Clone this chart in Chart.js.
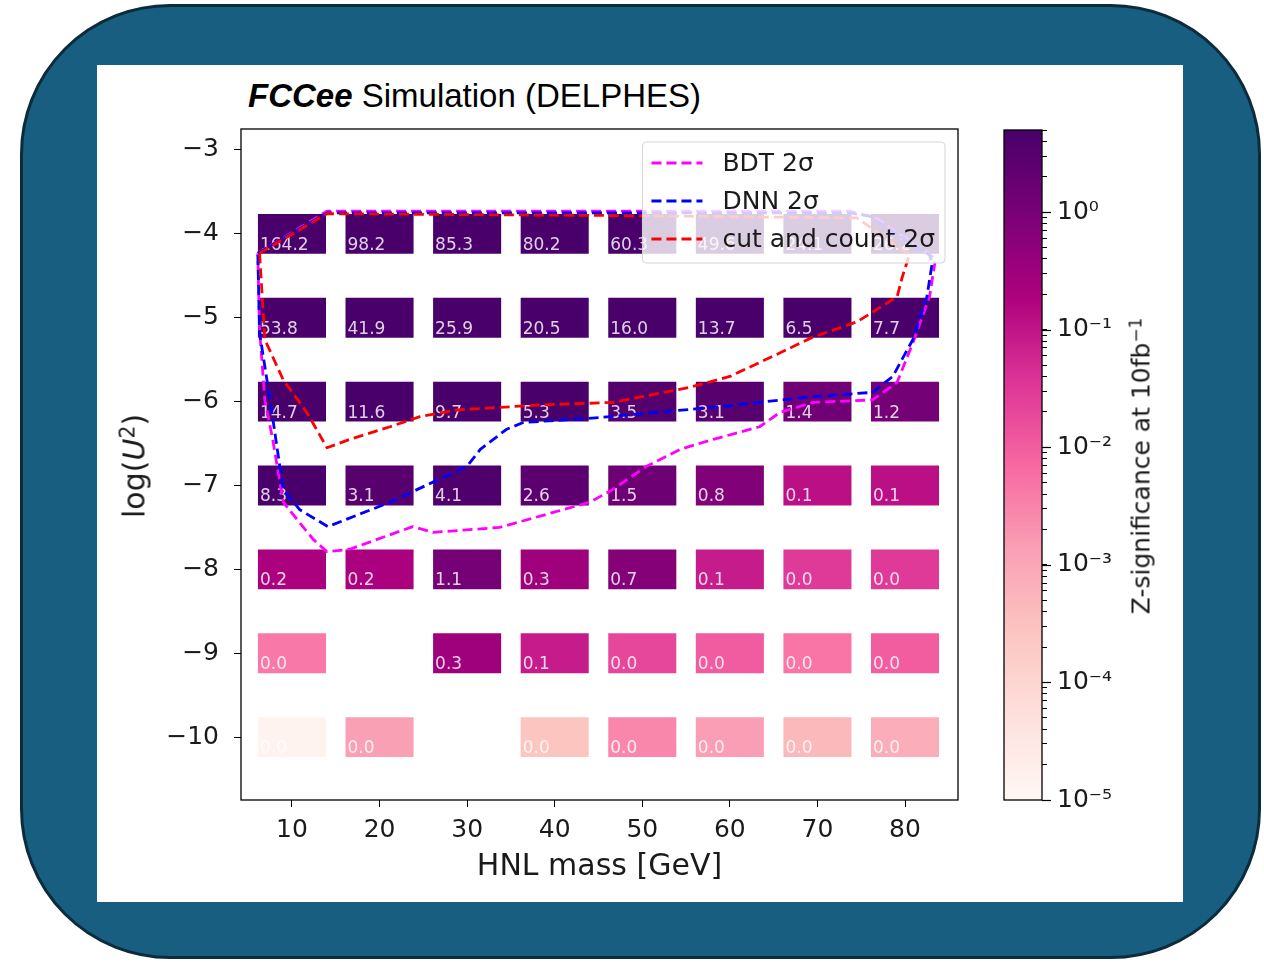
<!DOCTYPE html>
<html>
<head>
<meta charset="utf-8">
<title>HNL significance map</title>
<script src="https://cdn.jsdelivr.net/npm/chart.js@4.4.1/dist/chart.umd.min.js"></script>
<style>
  html, body { margin: 0; padding: 0; background: #fff; }
  body { width: 1264px; height: 962px; position: relative; overflow: hidden; font-family: "DejaVu Sans", sans-serif; }
  .frame { position: absolute; left: 20px; top: 4px; width: 1241px; height: 955px; box-sizing: border-box;
           border: 3px solid #0c2b3b; border-radius: 150px; background: #175e80; }
  .panel { position: absolute; left: 97px; top: 65px; width: 1086px; height: 837px; background: #fff; }
  .title { position: absolute; left: 248px; top: 77px; font-family: "Liberation Sans", Arial, sans-serif;
           font-size: 33px; line-height: 38px; color: #000; white-space: nowrap; }
  #heatmap { position: absolute; left: 100px; top: 99px; }
  #colorbar { position: absolute; left: 990px; top: 105px; }
  .ylabel, .cblabel { position: absolute; transform: translate(-50%, -50%) rotate(-90deg); white-space: nowrap; color: #1a1a1a; }
  .ylabel { left: 134px; top: 466px; font-size: 30px; }
  .cblabel { left: 1141px; top: 466px; font-size: 25px; }
  .sup { font-size: 68%; position: relative; top: -0.5em; }
</style>
</head>
<body>
<div class="frame"></div>
<div class="panel"></div>
<div class="title"><b><i>FCCee</i></b> Simulation (DELPHES)</div>
<canvas id="heatmap" width="878" height="791"></canvas>
<canvas id="colorbar" width="190" height="725"></canvas>
<div class="ylabel">log(<i>U</i><span class="sup">2</span>)</div>
<div class="cblabel">Z-significance at 10fb<span class="sup">−1</span></div>

<script>
// HNL mass points (GeV) and coupling rows log10(U^2)
const massPoints = [10, 20, 30, 40, 50, 60, 70, 80];
const logU2Rows = [-4, -5, -6, -7, -8, -9, -10];

// Z-significance at 10 fb^-1, one entry per mass point (null = no sample)
const zRowM4  = [164.2, 98.2, 85.3, 80.2, 60.3, 49.6, 24.1, 26.2];
const zRowM5  = [53.8, 41.9, 25.9, 20.5, 16.0, 13.7, 6.5, 7.7];
const zRowM6  = [14.7, 11.6, 9.7, 5.3, 3.5, 3.1, 1.4, 1.2];
const zRowM7  = [8.3, 3.1, 4.1, 2.6, 1.5, 0.8, 0.12, 0.12];
const zRowM8  = [0.2, 0.2, 1.1, 0.3, 0.7, 0.08, 0.03, 0.03];
const zRowM9  = [0.0042, null, 0.3, 0.08, 0.02, 0.0105, 0.0048, 0.01];
const zRowM10 = [0.000013, 0.0013, null, 0.00026, 0.0028, 0.0014, 0.00045, 0.00076];
const zRows = [zRowM4, zRowM5, zRowM6, zRowM7, zRowM8, zRowM9, zRowM10];

// 2 sigma contours (mass in GeV, log10 U^2)
const bdtMass  = [6.1, 14.0, 73.7, 76.6, 83.4, 83.4, 82.8, 80.9, 79.1, 76.3, 69.5, 65.7, 63.4, 58.1, 54.3, 50.5, 46.6, 44.0, 33.7, 26.1, 23.8, 16.6, 14.0, 12.4, 9.0, 7.8, 6.9, 6.3, 6.1];
const bdtLogU2 = [-4.23, -3.73, -3.73, -3.81, -4.29, -4.35, -4.75, -5.30, -5.77, -5.98, -6.01, -6.13, -6.30, -6.45, -6.57, -6.77, -7.05, -7.20, -7.50, -7.56, -7.49, -7.76, -7.79, -7.64, -7.20, -6.45, -5.98, -5.14, -4.23];

const dnnMass  = [6.1, 14.0, 73.7, 76.0, 82.8, 83.1, 82.5, 80.9, 78.6, 76.3, 69.5, 58.9, 45.2, 36.4, 34.5, 31.5, 30.0, 26.1, 21.2, 14.1, 10.9, 9.0, 8.3, 7.5, 6.3, 6.1];
const dnnLogU2 = [-4.23, -3.75, -3.75, -3.79, -4.25, -4.35, -4.75, -5.26, -5.70, -5.89, -5.94, -6.06, -6.19, -6.25, -6.33, -6.57, -6.77, -6.96, -7.20, -7.49, -7.29, -7.05, -6.55, -5.98, -5.18, -4.23];

const cutMass  = [6.3, 14.0, 45.0, 74.5, 80.5, 79.7, 79.1, 74.5, 69.5, 64.9, 60.0, 55.4, 46.6, 38.3, 28.8, 24.6, 21.2, 16.6, 14.0, 11.7, 9.0, 6.9, 6.3];
const cutLogU2 = [-4.23, -3.76, -3.78, -3.81, -4.25, -4.51, -4.75, -5.05, -5.23, -5.46, -5.70, -5.83, -6.01, -6.04, -6.10, -6.18, -6.30, -6.45, -6.55, -6.13, -5.74, -5.26, -4.23];

// Axis ticks
const xTicks = [10, 20, 30, 40, 50, 60, 70, 80];
const yTicks = [-3, -4, -5, -6, -7, -8, -9, -10];
const cbMajorTicks = [1e-5, 1e-4, 1e-3, 1e-2, 1e-1, 1];

// Colour scale (RdPu, log normalised)
const zMin = 1e-5, zMax = 5;
const rdPu = ['#fff7f3', '#fde0dd', '#fcc5c0', '#fa9fb5', '#f768a1', '#dd3497', '#ae017e', '#7a0177', '#49006a'];

function hexToRgb(h) {
    const n = parseInt(h.slice(1), 16);
    return [(n >> 16) & 255, (n >> 8) & 255, n & 255];
}

function colorFor(z) {
    let t = (Math.log10(z) - Math.log10(zMin)) / (Math.log10(zMax) - Math.log10(zMin));
    t = Math.min(1, Math.max(0, t));
    const pos = t * (rdPu.length - 1);
    const i = Math.min(rdPu.length - 2, Math.floor(pos));
    const f = pos - i;
    const a = hexToRgb(rdPu[i]), b = hexToRgb(rdPu[i + 1]);
    const c = a.map((v, k) => Math.round(v + (b[k] - v) * f));
    return `rgb(${c[0]},${c[1]},${c[2]})`;
}

const supDigits = { '0': '⁰', '1': '¹', '2': '²', '3': '³', '4': '⁴', '5': '⁵', '6': '⁶', '7': '⁷', '8': '⁸', '9': '⁹', '-': '⁻' };
function powerLabel(e) {
    return '10' + String(e).split('').map(ch => supDigits[ch]).join('');
}

Chart.defaults.font.family = '"DejaVu Sans", sans-serif';
Chart.defaults.color = '#1a1a1a';

// Black box around the plotting area
const axesFrame = {
    id: 'axesFrame',
    afterDatasetsDraw(chart) {
        const { ctx, chartArea: a } = chart;
        ctx.save();
        ctx.strokeStyle = '#000';
        ctx.lineWidth = 1.3;
        ctx.strokeRect(a.left, a.top, a.right - a.left, a.bottom - a.top);
        ctx.restore();
    }
};

// Value written inside each cell, right after its row is drawn
const cellLabels = {
    id: 'cellLabels',
    afterDatasetDraw(chart, args) {
        const meta = args.meta;
        if (meta.type !== 'bar') return;
        const rows = chart.data.datasets[args.index].data;
        const ctx = chart.ctx;
        ctx.save();
        ctx.font = '17px "DejaVu Sans"';
        ctx.fillStyle = 'rgba(255,255,255,0.82)';
        ctx.textBaseline = 'alphabetic';
        meta.data.forEach((el, i) => {
            const left = el.x - el.width / 2;
            const bottom = Math.max(el.y, el.base);
            ctx.fillText(rows[i].z.toFixed(1), left + 3, bottom - 5);
        });
        ctx.restore();
    }
};

// Legend box in the upper right corner of the axes
const insetLegend = {
    id: 'insetLegend',
    afterDraw(chart) {
        const { ctx, chartArea: a } = chart;
        const items = chart.data.datasets.filter(d => d.type === 'line');
        ctx.save();
        ctx.font = '25px "DejaVu Sans"';
        const textW = Math.max(...items.map(d => ctx.measureText(d.label).width));
        const w = 80 + textW + 10, h = 121;
        const x = a.right - 13 - w, y = a.top + 13;
        ctx.beginPath();
        ctx.roundRect(x, y, w, h, 4);
        ctx.fillStyle = 'rgba(255,255,255,0.8)';
        ctx.fill();
        ctx.strokeStyle = '#d4d4d4';
        ctx.lineWidth = 1;
        ctx.stroke();
        items.forEach((d, i) => {
            const cy = y + 21 + i * 38;
            ctx.beginPath();
            ctx.setLineDash(d.borderDash);
            ctx.strokeStyle = d.borderColor;
            ctx.lineWidth = d.borderWidth;
            ctx.moveTo(x + 9, cy);
            ctx.lineTo(x + 60, cy);
            ctx.stroke();
            ctx.setLineDash([]);
            ctx.fillStyle = '#1a1a1a';
            ctx.textBaseline = 'middle';
            ctx.fillText(d.label, x + 80, cy + 1);
        });
        ctx.restore();
    }
};

// Heatmap rows as floating bars, half a unit of log(U^2) tall
const cellSets = logU2Rows.map((row, r) => ({
    type: 'bar',
    label: 'log U2 ' + row,
    order: 10,
    grouped: false,
    categoryPercentage: 1,
    barPercentage: 0.8,
    borderWidth: 1,
    borderColor: 'rgba(255,255,255,0.35)',
    borderSkipped: false,
    backgroundColor: ctx => ctx.raw ? colorFor(ctx.raw.z) : '#49006a',
    data: massPoints
        .map((m, i) => zRows[r][i] == null ? null : { x: m, y: [row - 0.25, row + 0.25], z: zRows[r][i] })
        .filter(Boolean)
}));

function contour(label, masses, values, color, order) {
    return {
        type: 'line',
        label: label,
        order: order,
        data: masses.map((m, i) => ({ x: m, y: values[i] })),
        borderColor: color,
        borderWidth: 2.8,
        borderDash: [10, 5],
        borderJoinStyle: 'round',
        pointRadius: 0,
        fill: false,
        tension: 0
    };
}

new Chart(document.getElementById('heatmap'), {
    data: {
        datasets: [
            contour('BDT 2σ', bdtMass, bdtLogU2, '#ff00ff', 3),
            contour('DNN 2σ', dnnMass, dnnLogU2, '#0000ff', 2),
            contour('cut and count 2σ', cutMass, cutLogU2, '#ff0000', 1),
            ...cellSets
        ]
    },
    options: {
        responsive: false,
        animation: false,
        events: [],
        layout: { padding: { left: 0, right: 20, top: 0, bottom: 0 } },
        plugins: { legend: { display: false }, tooltip: { enabled: false } },
        scales: {
            x: {
                type: 'linear',
                min: 4.18,
                max: 86.05,
                offset: false,
                afterBuildTicks: s => { s.ticks = xTicks.map(v => ({ value: v })); },
                afterFit: s => { s.height = 90; },
                ticks: { font: { size: 25 }, padding: 8, maxRotation: 0, autoSkip: false, color: '#1a1a1a' },
                grid: { offset: false, drawOnChartArea: false, tickLength: 7, color: '#000', tickColor: '#000' },
                border: { display: false },
                title: { display: true, text: 'HNL mass [GeV]', font: { size: 30 }, padding: { bottom: 5 }, color: '#1a1a1a' }
            },
            y: {
                type: 'linear',
                min: -10.75,
                max: -2.75,
                afterBuildTicks: s => { s.ticks = yTicks.map(v => ({ value: v })); },
                afterFit: s => { s.width = 141; },
                ticks: { font: { size: 25 }, padding: 15, autoSkip: false, color: '#1a1a1a', callback: v => '−' + Math.abs(v) },
                grid: { drawOnChartArea: false, tickLength: 7, color: '#000', tickColor: '#000' },
                border: { display: false }
            }
        }
    },
    plugins: [cellLabels, axesFrame, insetLegend]
});

// Colour bar: one floating bar over the full range with the colormap as gradient
const cbTickValues = [];
cbMajorTicks.forEach(p => {
    for (let k = 1; k <= 9; k++) {
        const v = k * p;
        if (v <= zMax) cbTickValues.push(v);
    }
});

const majorTickMarks = {
    id: 'majorTickMarks',
    afterDraw(chart) {
        const { ctx, chartArea: a } = chart;
        const y = chart.scales.y;
        ctx.save();
        ctx.strokeStyle = '#000';
        ctx.lineWidth = 1.2;
        cbMajorTicks.forEach(v => {
            const py = Math.round(y.getPixelForValue(v)) + 0.5;
            ctx.beginPath();
            ctx.moveTo(a.right, py);
            ctx.lineTo(a.right + 9, py);
            ctx.stroke();
        });
        ctx.restore();
    }
};

new Chart(document.getElementById('colorbar'), {
    type: 'bar',
    data: {
        labels: ['Z'],
        datasets: [{
            data: [[zMin, zMax]],
            categoryPercentage: 1,
            barPercentage: 1,
            borderWidth: 0,
            backgroundColor: ctx => {
                const area = ctx.chart.chartArea;
                if (!area) return rdPu[4];
                const g = ctx.chart.ctx.createLinearGradient(0, area.bottom, 0, area.top);
                rdPu.forEach((c, i) => g.addColorStop(i / (rdPu.length - 1), c));
                return g;
            }
        }]
    },
    options: {
        responsive: false,
        animation: false,
        events: [],
        layout: { padding: { left: 14, right: 0, top: 0, bottom: 30 } },
        plugins: { legend: { display: false }, tooltip: { enabled: false } },
        scales: {
            x: { display: false },
            y: {
                type: 'logarithmic',
                position: 'right',
                min: zMin,
                max: zMax,
                afterBuildTicks: s => { s.ticks = cbTickValues.map(v => ({ value: v })); },
                afterFit: s => { s.width = 138; },
                ticks: {
                    autoSkip: false,
                    padding: 10,
                    font: { size: 25 },
                    color: '#1a1a1a',
                    callback: v => {
                        const e = Math.log10(v);
                        return Math.abs(e - Math.round(e)) < 1e-6 ? powerLabel(Math.round(e)) : '';
                    }
                },
                grid: { drawOnChartArea: false, tickLength: 5, color: '#000', tickColor: '#000' },
                border: { display: false }
            }
        }
    },
    plugins: [axesFrame, majorTickMarks]
});
</script>
</body>
</html>
